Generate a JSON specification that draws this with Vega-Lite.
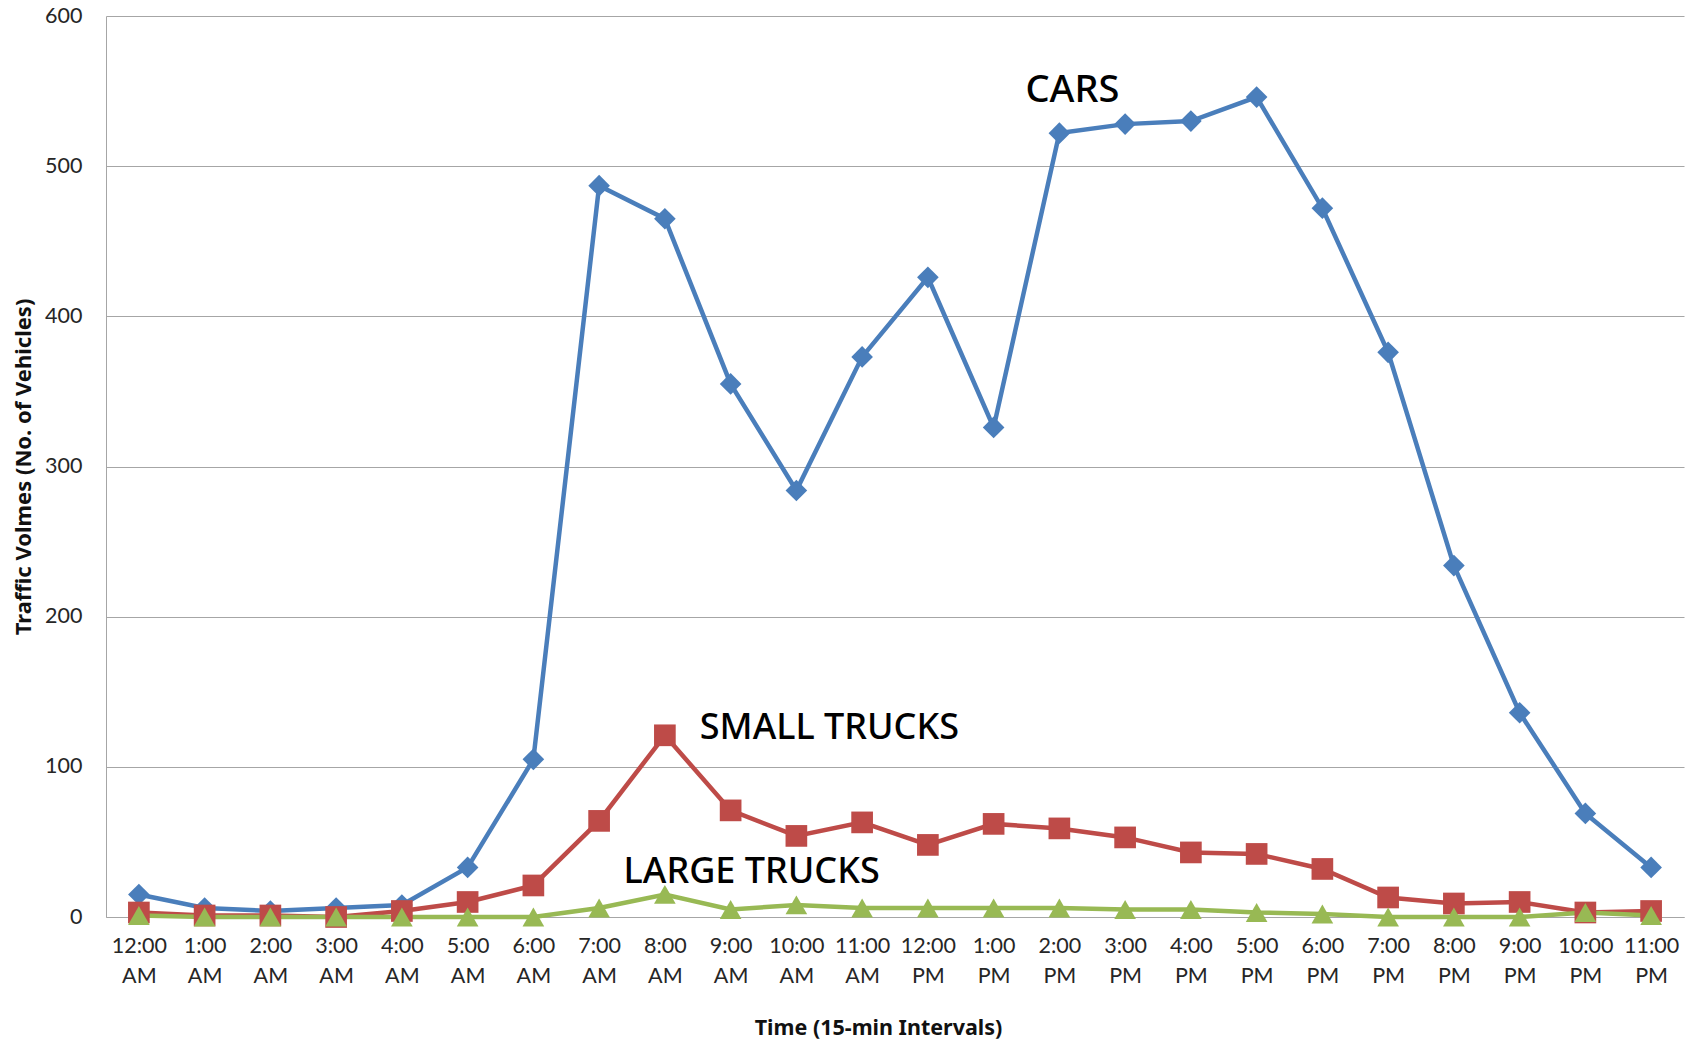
{
  "$schema": "https://vega.github.io/schema/vega-lite/v6.json",
  "autosize": {"type": "none"},
  "width": 1578,
  "height": 901,
  "padding": {"left": 106, "top": 16, "right": 16, "bottom": 126},
  "background": "white",
  "config": {
    "view": {"stroke": null},
    "font": "Lato",
    "axis": {"labelFont": "Lato", "titleFont": "Noto Sans", "labelColor": "#262626", "titleColor": "#111111"}
  },
  "datasets": {
    "traffic": [
      {"time": "12:00 AM", "type": "CARS", "value": 15},
      {"time": "1:00 AM", "type": "CARS", "value": 6},
      {"time": "2:00 AM", "type": "CARS", "value": 4},
      {"time": "3:00 AM", "type": "CARS", "value": 6},
      {"time": "4:00 AM", "type": "CARS", "value": 8},
      {"time": "5:00 AM", "type": "CARS", "value": 33},
      {"time": "6:00 AM", "type": "CARS", "value": 105},
      {"time": "7:00 AM", "type": "CARS", "value": 487},
      {"time": "8:00 AM", "type": "CARS", "value": 465},
      {"time": "9:00 AM", "type": "CARS", "value": 355},
      {"time": "10:00 AM", "type": "CARS", "value": 284},
      {"time": "11:00 AM", "type": "CARS", "value": 373},
      {"time": "12:00 PM", "type": "CARS", "value": 426},
      {"time": "1:00 PM", "type": "CARS", "value": 326},
      {"time": "2:00 PM", "type": "CARS", "value": 522},
      {"time": "3:00 PM", "type": "CARS", "value": 528},
      {"time": "4:00 PM", "type": "CARS", "value": 530},
      {"time": "5:00 PM", "type": "CARS", "value": 546},
      {"time": "6:00 PM", "type": "CARS", "value": 472},
      {"time": "7:00 PM", "type": "CARS", "value": 376},
      {"time": "8:00 PM", "type": "CARS", "value": 234},
      {"time": "9:00 PM", "type": "CARS", "value": 136},
      {"time": "10:00 PM", "type": "CARS", "value": 69},
      {"time": "11:00 PM", "type": "CARS", "value": 33},
      {"time": "12:00 AM", "type": "SMALL TRUCKS", "value": 3},
      {"time": "1:00 AM", "type": "SMALL TRUCKS", "value": 1},
      {"time": "2:00 AM", "type": "SMALL TRUCKS", "value": 1},
      {"time": "3:00 AM", "type": "SMALL TRUCKS", "value": 0},
      {"time": "4:00 AM", "type": "SMALL TRUCKS", "value": 4},
      {"time": "5:00 AM", "type": "SMALL TRUCKS", "value": 10},
      {"time": "6:00 AM", "type": "SMALL TRUCKS", "value": 21},
      {"time": "7:00 AM", "type": "SMALL TRUCKS", "value": 64},
      {"time": "8:00 AM", "type": "SMALL TRUCKS", "value": 121},
      {"time": "9:00 AM", "type": "SMALL TRUCKS", "value": 71},
      {"time": "10:00 AM", "type": "SMALL TRUCKS", "value": 54},
      {"time": "11:00 AM", "type": "SMALL TRUCKS", "value": 63},
      {"time": "12:00 PM", "type": "SMALL TRUCKS", "value": 48},
      {"time": "1:00 PM", "type": "SMALL TRUCKS", "value": 62},
      {"time": "2:00 PM", "type": "SMALL TRUCKS", "value": 59},
      {"time": "3:00 PM", "type": "SMALL TRUCKS", "value": 53},
      {"time": "4:00 PM", "type": "SMALL TRUCKS", "value": 43},
      {"time": "5:00 PM", "type": "SMALL TRUCKS", "value": 42},
      {"time": "6:00 PM", "type": "SMALL TRUCKS", "value": 32},
      {"time": "7:00 PM", "type": "SMALL TRUCKS", "value": 13},
      {"time": "8:00 PM", "type": "SMALL TRUCKS", "value": 9},
      {"time": "9:00 PM", "type": "SMALL TRUCKS", "value": 10},
      {"time": "10:00 PM", "type": "SMALL TRUCKS", "value": 3},
      {"time": "11:00 PM", "type": "SMALL TRUCKS", "value": 4},
      {"time": "12:00 AM", "type": "LARGE TRUCKS", "value": 1},
      {"time": "1:00 AM", "type": "LARGE TRUCKS", "value": 0},
      {"time": "2:00 AM", "type": "LARGE TRUCKS", "value": 0},
      {"time": "3:00 AM", "type": "LARGE TRUCKS", "value": 0},
      {"time": "4:00 AM", "type": "LARGE TRUCKS", "value": 0},
      {"time": "5:00 AM", "type": "LARGE TRUCKS", "value": 0},
      {"time": "6:00 AM", "type": "LARGE TRUCKS", "value": 0},
      {"time": "7:00 AM", "type": "LARGE TRUCKS", "value": 6},
      {"time": "8:00 AM", "type": "LARGE TRUCKS", "value": 15},
      {"time": "9:00 AM", "type": "LARGE TRUCKS", "value": 5},
      {"time": "10:00 AM", "type": "LARGE TRUCKS", "value": 8},
      {"time": "11:00 AM", "type": "LARGE TRUCKS", "value": 6},
      {"time": "12:00 PM", "type": "LARGE TRUCKS", "value": 6},
      {"time": "1:00 PM", "type": "LARGE TRUCKS", "value": 6},
      {"time": "2:00 PM", "type": "LARGE TRUCKS", "value": 6},
      {"time": "3:00 PM", "type": "LARGE TRUCKS", "value": 5},
      {"time": "4:00 PM", "type": "LARGE TRUCKS", "value": 5},
      {"time": "5:00 PM", "type": "LARGE TRUCKS", "value": 3},
      {"time": "6:00 PM", "type": "LARGE TRUCKS", "value": 2},
      {"time": "7:00 PM", "type": "LARGE TRUCKS", "value": 0},
      {"time": "8:00 PM", "type": "LARGE TRUCKS", "value": 0},
      {"time": "9:00 PM", "type": "LARGE TRUCKS", "value": 0},
      {"time": "10:00 PM", "type": "LARGE TRUCKS", "value": 3},
      {"time": "11:00 PM", "type": "LARGE TRUCKS", "value": 1}
    ],
    "labels": [
      {"time": "2:00 PM", "value": 550, "label": "CARS"},
      {"time": "10:00 AM", "value": 126, "label": "SMALL TRUCKS"},
      {"time": "9:00 AM", "value": 30, "label": "LARGE TRUCKS"}
    ]
  },
  "encoding": {
    "x": {
      "field": "time",
      "type": "ordinal",
      "sort": null,
      "scale": {"type": "point", "padding": 0.5},
      "axis": {
        "title": "Time (15-min Intervals)",
        "titleFontSize": 21.5,
        "titleFontWeight": "bold",
        "titleX": 772,
        "titleY": 111,
        "titleBaseline": "middle",
        "labelExpr": "split(datum.value, ' ')",
        "labelFontSize": 21.5,
        "labelLineHeight": 30,
        "labelPadding": 18,
        "labelAngle": 0,
        "ticks": false,
        "domain": true,
        "domainColor": "#A6A6A6",
        "grid": false
      }
    },
    "y": {
      "field": "value",
      "type": "quantitative",
      "scale": {"domain": [0, 600], "nice": false},
      "axis": {
        "title": "Traffic Volmes (No. of  Vehicles)",
        "titleFontSize": 22,
        "titleFontWeight": "bold",
        "titlePadding": 9,
        "values": [0, 100, 200, 300, 400, 500, 600],
        "labelFontSize": 21.5,
        "labelPadding": 24,
        "ticks": false,
        "domainColor": "#A6A6A6",
        "grid": true,
        "gridColor": "#A6A6A6",
        "gridWidth": 1.2
      }
    }
  },
  "layer": [
    {
      "data": {"name": "traffic"},
      "mark": {"type": "line", "strokeWidth": 4.5, "point": {"filled": true, "size": 470, "opacity": 1}},
      "encoding": {
        "color": {
          "field": "type",
          "type": "nominal",
          "scale": {"domain": ["CARS", "SMALL TRUCKS", "LARGE TRUCKS"], "range": ["#4A7EBB", "#BE4B48", "#98B954"]},
          "legend": null
        },
        "shape": {
          "field": "type",
          "type": "nominal",
          "scale": {"domain": ["CARS", "SMALL TRUCKS", "LARGE TRUCKS"], "range": ["diamond", "square", "triangle-up"]},
          "legend": null
        }
      }
    },
    {
      "data": {"name": "labels"},
      "transform": [{"filter": "datum.label == 'CARS'"}],
      "mark": {"type": "text", "font": "Noto Sans", "fontSize": 38, "fontWeight": 500, "color": "black", "align": "center", "baseline": "middle", "dx": 13},
      "encoding": {"text": {"field": "label"}}
    },
    {
      "data": {"name": "labels"},
      "transform": [{"filter": "datum.label == 'SMALL TRUCKS'"}],
      "mark": {"type": "text", "font": "Noto Sans", "fontSize": 36, "fontWeight": 500, "color": "black", "align": "center", "baseline": "middle", "dx": 33},
      "encoding": {"text": {"field": "label"}}
    },
    {
      "data": {"name": "labels"},
      "transform": [{"filter": "datum.label == 'LARGE TRUCKS'"}],
      "mark": {"type": "text", "font": "Noto Sans", "fontSize": 36, "fontWeight": 500, "color": "black", "align": "center", "baseline": "middle", "dx": 21},
      "encoding": {"text": {"field": "label"}}
    }
  ]
}
